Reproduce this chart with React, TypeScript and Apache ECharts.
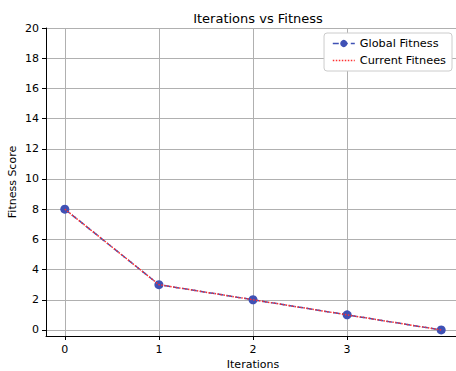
import React, { useEffect, useRef } from "react";
import * as echarts from "echarts";

const iterations = [0, 1, 2, 3, 4];
const globalFitness = [8, 3, 2, 1, 0];
const currentFitness = [8, 3, 2, 1, 0];
const xTicks = [0, 1, 2, 3];
const yTicks = [0, 2, 4, 6, 8, 10, 12, 14, 16, 18, 20];

const FONT = "DejaVu Sans";
const BLUE = "#3f51b5";
const RED = "#ff3030";

export default function App() {
  const ref = useRef<HTMLDivElement>(null);
  useEffect(() => {
    if (!ref.current) return;
    const chart = echarts.init(ref.current, null, { renderer: "svg" });
    const gridColor = "#b0b0b0";
    chart.setOption({
      animation: false,
      backgroundColor: "#ffffff",
      title: {
        text: "Iterations vs Fitness",
        left: 253,
        textAlign: "center",
        top: 7,
        textStyle: { fontFamily: FONT, fontSize: 13, fontWeight: "normal", color: "#000" },
      },
      legend: {
        right: 4,
        top: 33,
        orient: "vertical",
        backgroundColor: "#fff",
        borderColor: "#cccccc",
        borderWidth: 1,
        borderRadius: 3,
        padding: [5, 6, 5, 8],
        itemGap: 6,
        itemWidth: 22,
        itemHeight: 9,
        textStyle: { fontFamily: FONT, fontSize: 11.3, color: "#000" },
        data: [
          { name: "Global Fitness", lineStyle: { type: "dashed", color: BLUE, width: 1.5 } },
          {
            name: "Current Fitnees",
            itemStyle: { opacity: 0 },
            lineStyle: { type: "dotted", color: RED, width: 1.5 },
          },
        ],
      },
      grid: { left: 46, right: -4, top: 28, bottom: 35, containLabel: false, outerBoundsMode: "none" },
      xAxis: {
        type: "value",
        min: -0.2,
        max: 4.2,
        name: "Iterations",
        nameLocation: "middle",
        nameGap: 23,
        nameMoveOverlap: false,
        nameTextStyle: { fontFamily: FONT, fontSize: 11, color: "#000" },
        axisLine: { show: true, onZero: false, lineStyle: { color: "#000", width: 1 } },
        axisTick: { show: true, length: 4, customValues: xTicks, lineStyle: { color: "#000" } },
        axisLabel: { customValues: xTicks, fontFamily: FONT, fontSize: 11, color: "#000", margin: 8 },
        splitLine: { show: true, customValues: xTicks, lineStyle: { color: gridColor, width: 1 } },
      },
      yAxis: {
        type: "value",
        min: -0.4,
        max: 20,
        name: "Fitness Score",
        nameLocation: "middle",
        nameGap: 28,
        nameMoveOverlap: false,
        nameRotate: 90,
        nameTextStyle: { fontFamily: FONT, fontSize: 11, color: "#000" },
        axisLine: { show: true, onZero: false, lineStyle: { color: "#000", width: 1 } },
        axisTick: { show: true, length: 4, customValues: yTicks, lineStyle: { color: "#000" } },
        axisLabel: { customValues: yTicks, fontFamily: FONT, fontSize: 11, color: "#000", margin: 7 },
        splitLine: { show: true, customValues: yTicks, lineStyle: { color: gridColor, width: 1 } },
      },
      series: [
        {
          name: "Global Fitness",
          type: "line",
          data: iterations.map((x, i) => [x, globalFitness[i]]),
          symbol: "circle",
          symbolSize: 9,
          itemStyle: { color: BLUE },
          lineStyle: { color: BLUE, type: "dashed", width: 1.5 },
          z: 2,
        },
        {
          name: "Current Fitnees",
          type: "line",
          data: iterations.map((x, i) => [x, currentFitness[i]]),
          symbol: "none",
          itemStyle: { color: RED },
          lineStyle: { color: RED, type: "dotted", width: 1.5 },
          z: 3,
        },
      ],
    });
    return () => chart.dispose();
  }, []);
  return (
    <div
      ref={ref}
      style={{ position: "fixed", left: 0, top: 0, width: 456, height: 371 }}
    />
  );
}
